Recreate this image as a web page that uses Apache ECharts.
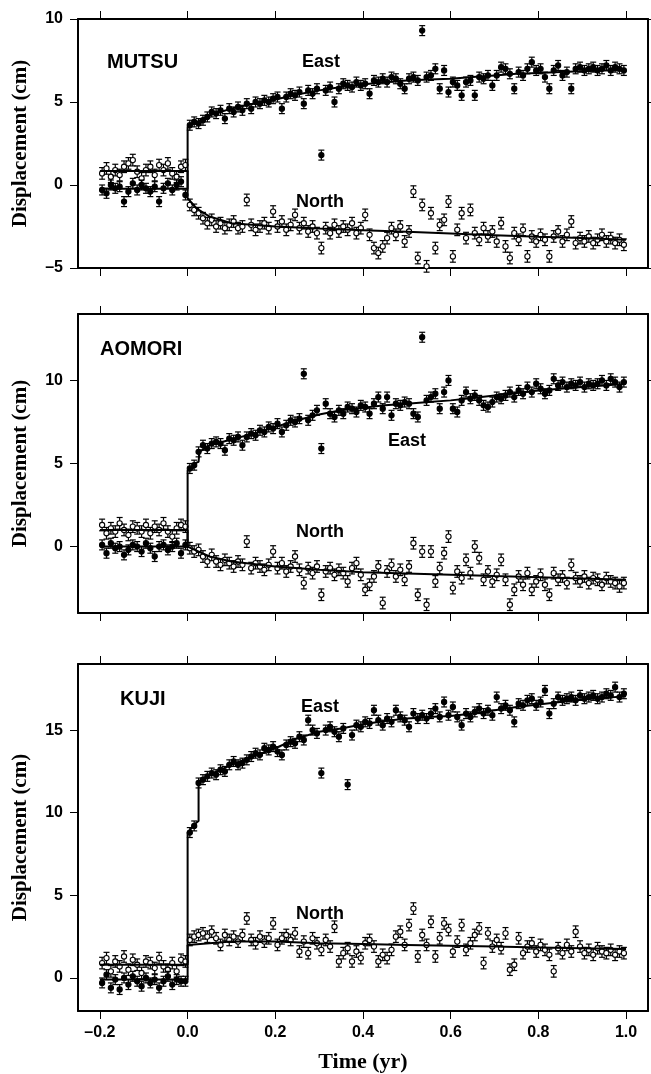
<!DOCTYPE html>
<html>
<head>
<meta charset="utf-8">
<title>Displacement time series</title>
<script src="https://cdn.jsdelivr.net/npm/echarts@6/dist/echarts.min.js"></script>
<style>
html, body { margin: 0; padding: 0; background: #fff; }
#chart { width: 651px; height: 1074px; }
</style>
</head>
<body>
<div id="chart"></div>
<script>
'use strict';
// sample times (yr), shared by all stations
var times = [
  -0.195, -0.185, -0.175, -0.165, -0.155, -0.145, -0.135, -0.125, -0.115, -0.105,
  -0.095, -0.085, -0.075, -0.065, -0.055, -0.045, -0.035, -0.025, -0.015, -0.005,
  0.005, 0.015, 0.025, 0.035, 0.045, 0.055, 0.065, 0.075, 0.085, 0.095,
  0.105, 0.115, 0.125, 0.135, 0.145, 0.155, 0.165, 0.175, 0.185, 0.195,
  0.205, 0.215, 0.225, 0.235, 0.245, 0.255, 0.265, 0.275, 0.285, 0.295,
  0.305, 0.315, 0.325, 0.335, 0.345, 0.355, 0.365, 0.375, 0.385, 0.395,
  0.405, 0.415, 0.425, 0.435, 0.445, 0.455, 0.465, 0.475, 0.485, 0.495,
  0.505, 0.515, 0.525, 0.535, 0.545, 0.555, 0.565, 0.575, 0.585, 0.595,
  0.605, 0.615, 0.625, 0.635, 0.645, 0.655, 0.665, 0.675, 0.685, 0.695,
  0.705, 0.715, 0.725, 0.735, 0.745, 0.755, 0.765, 0.775, 0.785, 0.795,
  0.805, 0.815, 0.825, 0.835, 0.845, 0.855, 0.865, 0.875, 0.885, 0.895,
  0.905, 0.915, 0.925, 0.935, 0.945, 0.955, 0.965, 0.975, 0.985, 0.995
];

// MUTSU
var mutsuEast = [
  -0.3, -0.5, 0.0, -0.2, -0.1, -1.0, -0.4, 0.1, -0.3, 0.0,
  -0.2, -0.4, -0.1, -1.0, -0.2, 0.1, -0.3, 0.0, 0.2, -0.6,
  3.6, 3.8, 3.7, 3.9, 4.1, 4.4, 4.3, 4.5, 4.0, 4.6,
  4.4, 4.7, 4.5, 4.9, 4.6, 5.0, 4.9, 5.1, 5.0, 5.2,
  5.3, 4.6, 5.3, 5.5, 5.4, 5.6, 4.9, 5.7, 5.5, 5.8,
  1.8, 5.7, 5.9, 5.0, 5.8, 6.1, 6.0, 5.9, 6.2, 6.0,
  6.1, 5.5, 6.3, 6.2, 6.4, 6.2, 6.5, 6.4, 6.1, 5.8,
  6.4, 6.5, 6.3, 9.3, 6.5, 6.6, 7.0, 5.8, 6.9, 5.6,
  6.2, 6.0, 5.4, 6.2, 6.3, 5.4, 6.5, 6.4, 6.6, 6.0,
  6.6, 7.1, 7.0, 6.7, 5.8, 6.8, 6.6, 7.0, 7.4, 6.9,
  7.0, 6.5, 5.8, 6.9, 7.2, 6.6, 6.8, 5.8, 7.0, 7.1,
  6.9, 7.0, 7.1, 6.9, 7.0, 7.2, 6.9, 7.1, 7.0, 6.9
];
var mutsuNorth = [
  0.7, 1.0, 0.5, 0.9, 0.6, 1.1, 1.3, 1.5, 0.8, 0.4,
  0.9, 1.1, 0.6, 1.2, 0.9, 1.3, 0.7, 0.5, 1.1, 1.2,
  -1.2, -1.5, -1.7, -2.0, -2.3, -2.1, -2.5, -2.3, -2.6, -2.4,
  -2.2, -2.6, -2.5, -0.9, -2.4, -2.7, -2.5, -2.3, -2.6, -1.6,
  -2.5, -2.2, -2.7, -2.4, -1.8, -2.6, -2.3, -2.8, -2.5, -2.9,
  -3.8, -2.6, -2.9, -2.4, -2.8, -2.5, -2.7, -2.3, -2.9, -2.6,
  -1.8, -3.0, -3.8, -4.1, -3.7, -3.2, -2.6, -3.0, -2.5, -3.4,
  -2.8, -0.4, -4.4, -1.2, -4.9, -1.7, -3.8, -2.4, -2.1, -1.0,
  -4.3, -2.7, -1.7, -3.2, -1.5, -2.9, -3.3, -2.6, -3.1, -2.8,
  -3.4, -2.3, -3.7, -4.4, -2.9, -3.3, -2.7, -4.3, -3.1, -3.4,
  -3.0, -3.3, -4.3, -3.1, -2.8, -3.4, -3.0, -2.2, -3.5, -3.2,
  -3.4, -3.1, -3.5, -3.3, -3.0, -3.4, -3.2, -3.5, -3.3, -3.6
];
var mutsuEastModel = [[-0.2, -0.22], [0, -0.22], [0, 3.5], [0.05, 4.2], [0.1, 4.6], [0.15, 4.9], [0.2, 5.15],
  [0.25, 5.45], [0.3, 5.7], [0.35, 5.9], [0.4, 6.05], [0.45, 6.2], [0.5, 6.3], [0.55, 6.35], [0.6, 6.4],
  [0.65, 6.5], [0.7, 6.6], [0.75, 6.7], [0.8, 6.75], [0.85, 6.8], [0.9, 6.85], [0.95, 6.9], [1.0, 6.95]];
var mutsuNorthModel = [[-0.2, 0.85], [0, 0.85], [0, -0.8], [0.02, -1.4], [0.05, -1.9], [0.1, -2.3], [0.2, -2.5],
  [0.3, -2.62], [0.4, -2.72], [0.5, -2.82], [0.6, -2.92], [0.7, -3.02], [0.8, -3.12], [0.9, -3.2], [1.0, -3.3]];

// AOMORI
var aomoriEast = [
  0.1, -0.4, 0.2, -0.1, 0.0, -0.5, -0.2, 0.1, 0.0, -0.3,
  0.2, -0.1, -0.6, 0.0, 0.1, -0.2, 0.0, 0.2, -0.4, 0.1,
  4.7, 4.9, 5.7, 6.1, 5.9, 6.2, 6.3, 6.2, 5.8, 6.5,
  6.4, 6.6, 6.1, 6.6, 6.8, 6.7, 7.0, 6.9, 7.2, 7.1,
  7.4, 6.9, 7.3, 7.6, 7.5, 7.7, 10.4, 7.6, 7.9, 8.2,
  5.9, 8.6, 8.0, 7.8, 8.2, 8.0, 8.4, 8.3, 8.1, 8.5,
  8.4, 8.0, 8.6, 9.0, 8.3, 9.0, 7.9, 8.6, 8.5, 8.7,
  8.6, 8.0, 7.8, 12.6, 8.8, 9.0, 9.2, 8.3, 9.3, 10.0,
  8.3, 8.1, 8.8, 9.3, 8.9, 9.1, 8.8, 8.5, 8.4, 8.7,
  9.0, 8.9, 9.1, 9.3, 9.0, 9.4, 9.2, 9.6, 9.3, 9.8,
  9.5, 9.2, 9.4, 10.1, 9.7, 9.9, 9.6, 9.8, 9.7, 9.9,
  9.6, 9.8, 9.7, 9.8, 10.0, 9.7, 10.1, 9.9, 9.6, 9.9
];
var aomoriNorth = [
  1.3, 0.8, 1.1, 0.9, 1.4, 1.0, 0.7, 1.2, 1.1, 0.9,
  1.3, 0.8, 1.2, 1.0, 1.4, 0.9, 0.6, 1.1, 1.3, 1.2,
  -0.1, -0.3, -0.2, -0.6, -0.9, -0.5, -0.9, -1.1, -0.8, -1.0,
  -1.2, -0.9, -1.1, 0.3, -1.3, -1.0, -1.2, -1.4, -1.1, -0.3,
  -1.3, -1.0, -1.5, -1.2, -0.6, -1.4, -2.2, -1.3, -1.6, -1.2,
  -2.9, -1.5, -1.3, -1.7, -1.4, -1.6, -2.1, -1.3, -1.0, -1.7,
  -2.6, -2.3, -1.8, -1.2, -3.4, -1.5, -1.1, -1.8, -1.4, -2.0,
  -1.2, 0.2, -2.9, -0.3, -3.5, -0.3, -2.1, -1.3, -0.4, 0.6,
  -2.5, -1.5, -1.9, -0.8, -1.6, 0.0, -0.7, -2.0, -1.5, -2.1,
  -1.7, -0.8, -2.0, -3.5, -2.6, -1.8, -2.3, -1.6, -2.6, -2.1,
  -1.7, -2.3, -2.9, -1.6, -2.0, -1.8, -2.2, -1.1, -1.9, -2.1,
  -1.8, -2.2, -1.9, -2.0, -2.3, -1.9, -2.1, -2.2, -2.4, -2.2
];
var aomoriEastModel = [[-0.2, 0], [0, 0], [0, 4.6], [0.012, 4.7], [0.015, 5.0], [0.025, 5.1], [0.027, 5.7],
  [0.05, 6.1], [0.1, 6.45], [0.15, 6.8], [0.2, 7.2], [0.25, 7.6], [0.3, 7.95], [0.35, 8.2], [0.4, 8.35],
  [0.45, 8.5], [0.5, 8.6], [0.55, 8.7], [0.6, 8.8], [0.65, 8.95], [0.7, 9.1], [0.75, 9.25], [0.8, 9.4],
  [0.85, 9.5], [0.9, 9.6], [0.95, 9.7], [1.0, 9.8]];
var aomoriNorthModel = [[-0.2, 1.0], [0, 1.0], [0, 0.0], [0.05, -0.6], [0.1, -0.9], [0.2, -1.2], [0.3, -1.4],
  [0.4, -1.55], [0.5, -1.62], [0.6, -1.7], [0.7, -1.78], [0.8, -1.85], [0.9, -1.92], [1.0, -2.0]];

// KUJI
var kujiEast = [
  -0.3, 0.2, -0.6, -0.1, -0.7, 0.0, -0.4, 0.1, -0.2, -0.5,
  0.0, -0.3, -0.1, -0.6, -0.2, 0.1, -0.4, -0.1, -0.2, -0.2,
  8.8, 9.2, 11.8, 12.0, 12.2, 12.4, 12.3, 12.6, 12.5, 12.9,
  13.1, 12.9, 13.0, 13.2, 13.4, 13.6, 13.5, 13.9, 13.8, 14.0,
  13.7, 13.5, 14.1, 14.3, 14.2, 14.6, 14.4, 15.6, 15.0, 14.8,
  12.4, 15.0, 15.2, 14.9, 14.6, 15.1, 11.7, 14.7, 15.3, 15.2,
  15.5, 15.4, 16.2, 15.6, 15.3, 15.7, 15.5, 16.2, 15.8, 15.6,
  15.2, 16.0, 15.7, 15.9, 15.7, 16.0, 16.3, 15.8, 16.7, 15.9,
  16.4, 15.8, 15.3, 16.0, 15.8, 16.1, 16.3, 16.0, 16.2, 15.9,
  17.0, 16.3, 16.5, 16.2, 15.5, 16.6, 16.5, 16.8, 16.9, 16.5,
  16.7, 17.4, 16.0, 16.6, 17.0, 16.8, 16.9, 17.0, 16.8, 17.1,
  16.9, 17.0, 17.1, 16.9, 17.0, 17.2, 17.1, 17.6, 17.0, 17.2
];
var kujiNorth = [
  0.9, 1.2, 0.4, 1.0, 0.7, 1.3, 0.5, 1.1, 0.8, 0.3,
  1.0, 0.9, 0.6, 1.2, 0.7, 0.5, 0.9, 0.4, 1.1, 1.0,
  2.3, 2.5, 2.6, 2.7, 2.5, 2.8, 2.4, 2.0, 2.6, 2.3,
  2.5, 2.2, 2.6, 3.6, 2.3, 2.1, 2.5, 2.2, 2.4, 3.3,
  2.0, 2.4, 2.6, 2.3, 2.7, 1.6, 2.2, 1.5, 2.4, 2.1,
  1.7, 2.3, 1.9, 3.1, 1.0, 1.5, 1.8, 1.0, 1.6, 1.2,
  2.1, 2.3, 1.9, 1.0, 1.4, 1.2, 1.7, 2.5, 2.8, 2.0,
  3.2, 4.2, 1.3, 2.6, 2.0, 3.4, 1.3, 2.4, 3.3, 2.9,
  1.6, 2.2, 3.2, 1.7, 2.1, 2.6, 3.0, 0.9, 2.7, 1.9,
  2.3, 1.8, 2.7, 0.5, 0.8, 2.4, 1.5, 1.9, 2.1, 1.6,
  2.0, 1.7, 1.4, 0.4, 1.8, 1.5, 2.0, 1.6, 2.8, 1.9,
  1.5, 1.7, 1.4, 1.8, 1.6, 1.5, 1.7, 1.4, 1.6, 1.5
];
var kujiEastModel = [[-0.2, -0.1], [0, -0.1], [0, 8.8], [0.02, 9.4], [0.025, 9.5], [0.025, 11.9], [0.05, 12.3],
  [0.1, 12.9], [0.15, 13.4], [0.2, 13.9], [0.25, 14.5], [0.3, 14.9], [0.35, 15.1], [0.4, 15.35], [0.45, 15.55],
  [0.5, 15.7], [0.55, 15.8], [0.6, 15.85], [0.65, 16.0], [0.7, 16.2], [0.75, 16.4], [0.8, 16.55], [0.85, 16.7],
  [0.9, 16.85], [0.95, 16.95], [1.0, 17.05]];
var kujiNorthModel = [[-0.2, 0.8], [0, 0.8], [0, 2.0], [0.1, 2.2], [0.2, 2.2], [0.3, 2.1], [0.4, 2.05],
  [0.5, 2.0], [0.6, 1.95], [0.7, 1.9], [0.8, 1.85], [0.9, 1.8], [1.0, 1.75]];

// axes
var xTicks = [-0.2, 0, 0.2, 0.4, 0.6, 0.8, 1.0];
var yTicks = [[-5, 0, 5, 10], [0, 5, 10], [0, 5, 10, 15]];
var yRanges = [[-5, 10], [-4, 14], [-2, 19]];
var sigmaEast = 0.3, sigmaNorth = 0.35;

var panels = [
  {name: 'MUTSU', east: mutsuEast, north: mutsuNorth, eastModel: mutsuEastModel, northModel: mutsuNorthModel},
  {name: 'AOMORI', east: aomoriEast, north: aomoriNorth, eastModel: aomoriEastModel, northModel: aomoriNorthModel},
  {name: 'KUJI', east: kujiEast, north: kujiNorth, eastModel: kujiEastModel, northModel: kujiNorthModel}
];

var SANS = '"Liberation Sans", Arial, Helvetica, sans-serif';
var SERIF = '"Liberation Serif", "Times New Roman", serif';

function dashNum(v, digits) {
  var s = Math.abs(v).toFixed(digits);
  return v < 0 ? '\u2013' + s : s;
}

function pairs(vals) {
  return times.map(function (t, i) { return [t, vals[i]]; });
}

// error bar + circle glyph
function errBar(filled, sigma) {
  return function (params, api) {
    var t = api.value(0), v = api.value(1);
    var p = api.coord([t, v]);
    var hi = api.coord([t, v + sigma]);
    var lo = api.coord([t, v - sigma]);
    var cap = 3;
    var st = {stroke: '#000', lineWidth: 1.2, fill: null};
    return {
      type: 'group',
      children: [
        {type: 'line', shape: {x1: p[0], y1: hi[1], x2: p[0], y2: lo[1]}, style: st},
        {type: 'line', shape: {x1: p[0] - cap, y1: hi[1], x2: p[0] + cap, y2: hi[1]}, style: st},
        {type: 'line', shape: {x1: p[0] - cap, y1: lo[1], x2: p[0] + cap, y2: lo[1]}, style: st},
        {type: 'circle', shape: {cx: p[0], cy: p[1], r: 2.6},
          style: {fill: filled ? '#000' : '#fff', stroke: '#000', lineWidth: 1.1}}
      ]
    };
  };
}

var gridBoxes = [
  {left: 78, right: 3, top: 19, height: 249},
  {left: 78, right: 3, top: 314, height: 299},
  {left: 78, right: 3, top: 664, height: 349}
];

var grid = [], xAxis = [], yAxis = [], series = [];
var lineAx = {show: true, onZero: false, lineStyle: {color: '#000', width: 2}};
var tickAx = {show: true, inside: false, length: 8, lineStyle: {color: '#000', width: 1}};

panels.forEach(function (p, i) {
  grid.push(gridBoxes[i]);
  var last = i === panels.length - 1;
  // bottom
  xAxis.push({
    type: 'value', gridIndex: i, position: 'bottom', min: -0.25, max: 1.05,
    axisLine: lineAx,
    axisTick: Object.assign({customValues: xTicks}, tickAx),
    axisLabel: {show: last, customValues: xTicks, margin: 14, color: '#000',
      fontFamily: SANS, fontWeight: 'bold', fontSize: 16,
      formatter: function (v) { return dashNum(v, 1); }},
    splitLine: {show: false},
    name: last ? 'Time (yr)' : '', nameLocation: 'middle', nameGap: 40,
    nameTextStyle: {fontFamily: SERIF, fontWeight: 'bold', fontSize: 22, color: '#000'}
  });
  // top
  xAxis.push({
    type: 'value', gridIndex: i, position: 'top', min: -0.25, max: 1.05,
    axisLine: lineAx,
    axisTick: Object.assign({customValues: xTicks}, tickAx),
    axisLabel: {show: false}, splitLine: {show: false}
  });
  // left
  yAxis.push({
    type: 'value', gridIndex: i, position: 'left', min: yRanges[i][0], max: yRanges[i][1],
    axisLine: lineAx,
    axisTick: Object.assign({customValues: yTicks[i]}, tickAx),
    axisLabel: {customValues: yTicks[i], margin: 15, color: '#000',
      fontFamily: SANS, fontWeight: 'bold', fontSize: 16,
      formatter: function (v) { return dashNum(v, 0); }},
    splitLine: {show: false},
    name: 'Displacement (cm)', nameLocation: 'middle', nameRotate: 90, nameGap: 47,
    nameTextStyle: {fontFamily: SERIF, fontWeight: 'bold', fontSize: 21, color: '#000'}
  });
  // right
  yAxis.push({
    type: 'value', gridIndex: i, position: 'right', min: yRanges[i][0], max: yRanges[i][1],
    axisLine: lineAx,
    axisTick: Object.assign({customValues: yTicks[i]}, tickAx),
    axisLabel: {show: false}, splitLine: {show: false}
  });

  series.push({
    type: 'custom', name: p.name + ' North', xAxisIndex: 2 * i, yAxisIndex: 2 * i,
    renderItem: errBar(false, sigmaNorth), data: pairs(p.north), encode: {x: 0, y: 1}, z: 2
  });
  series.push({
    type: 'custom', name: p.name + ' East', xAxisIndex: 2 * i, yAxisIndex: 2 * i,
    renderItem: errBar(true, sigmaEast), data: pairs(p.east), encode: {x: 0, y: 1}, z: 3
  });
  [p.eastModel, p.northModel].forEach(function (m) {
    series.push({
      type: 'line', xAxisIndex: 2 * i, yAxisIndex: 2 * i, data: m,
      showSymbol: false, symbol: 'none', silent: true, z: 4,
      lineStyle: {color: '#000', width: 2}
    });
  });
});

function label(text, x, y, size, align) {
  return {
    type: 'text', x: x, y: y, z: 10,
    style: {text: text, fill: '#000', font: 'bold ' + size + 'px ' + SANS,
      textAlign: align || 'center', textVerticalAlign: 'middle'}
  };
}

var graphic = [
  label('MUTSU', 107, 62, 20, 'left'),
  label('East', 321, 62, 18),
  label('North', 320, 202, 18),
  label('AOMORI', 100, 349, 20, 'left'),
  label('East', 407, 441, 18),
  label('North', 320, 532, 18),
  label('KUJI', 120, 699, 20, 'left'),
  label('East', 320, 707, 18),
  label('North', 320, 914, 18)
];

var myChart = echarts.init(document.getElementById('chart'), null, {renderer: 'canvas'});
myChart.setOption({
  animation: false,
  backgroundColor: '#fff',
  grid: grid,
  xAxis: xAxis,
  yAxis: yAxis,
  series: series,
  graphic: graphic
});
</script>
</body>
</html>
